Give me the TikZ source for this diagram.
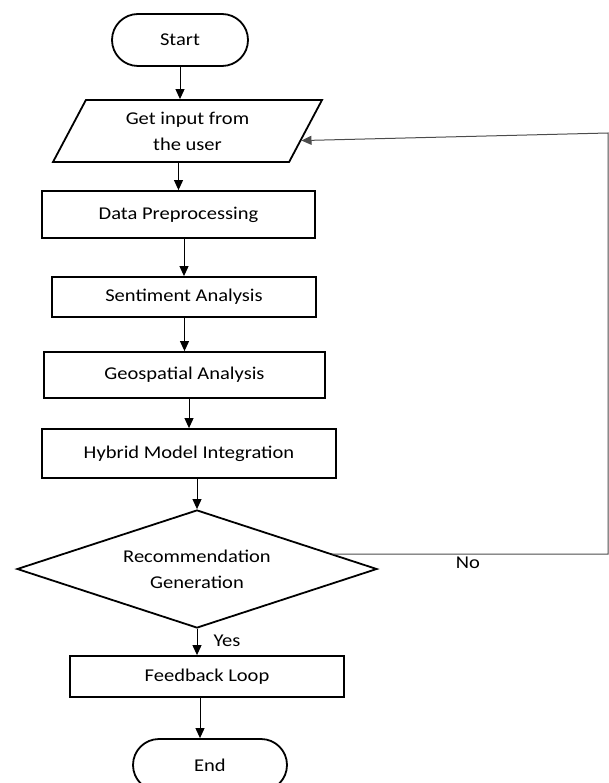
\documentclass[tikz,border=0pt]{standalone}
\usepackage{fontspec}
\setmainfont{Carlito}[FakeStretch=1.14]
\usetikzlibrary{shapes.geometric,shapes.misc,arrows.meta,calc}
\tikzset{
  every node/.style={font=\fontsize{18}{26}\selectfont, align=center},
  term/.style={draw, line width=1.8pt, rounded rectangle, inner sep=0pt, minimum width=136pt, minimum height=52pt},
  proc/.style={draw, line width=1.8pt, rectangle, inner sep=0pt},
  io/.style={draw, line width=1.8pt, trapezium, trapezium left angle=49.5, trapezium right angle=130.5,
    trapezium stretches body, inner sep=0pt, minimum width=269pt, minimum height=62pt},
  decide/.style={draw, line width=1.8pt, diamond, aspect=3.05, inner sep=0pt, minimum width=360pt, minimum height=118pt},
  arr/.style={line width=1pt, -{Triangle[length=10pt,width=9pt]}},
  back/.style={line width=1pt, draw=black!70, -{Triangle[length=10pt,width=9pt]}}
}

\begin{document}
\begin{tikzpicture}[x=1pt,y=-1pt]
\useasboundingbox (0,0) rectangle (609,783);
\node[term] (start) at (180,40) {Start};
\node[io] (input) at (187.5,131) {Get input from\\the user};
\node[proc, minimum width=273pt, minimum height=47pt] (prep) at (178.5,214.5) {Data Preprocessing};
\node[proc, minimum width=264pt, minimum height=40pt] (senti) at (184,297) {Sentiment Analysis};
\node[proc, minimum width=281pt, minimum height=46pt] (geo) at (184.5,375) {Geospatial Analysis};
\node[proc, minimum width=294pt, minimum height=49pt] (hybrid) at (189,453.5) {Hybrid Model Integration};
\node[decide] (dec) at (197,569) {Recommendation\\Generation};
\node[proc, minimum width=274pt, minimum height=41pt] (feed) at (207,676.5) {Feedback Loop};
\node[term, minimum width=154pt] (end) at (210,765) {End};
\node (no) at (468,563) {No};
\node (yes) at (227,641) {Yes};
\coordinate (upturn) at (608,133);

\draw[arr] (start.south) -- (start.south |- input.top side);
\draw[arr] (prep.north |- input.bottom side) -- (prep.north);
\draw[arr] (senti.north |- prep.south) -- (senti.north);
\draw[arr] (geo.north |- senti.south) -- (geo.north);
\draw[arr] (hybrid.north |- geo.south) -- (hybrid.north);
\draw[arr] (dec.north |- hybrid.south) -- (dec.north);
\draw[arr] (dec.south) -- (dec.south |- feed.north);
\draw[arr] ([xshift=-10pt]end.north |- feed.south) -- ([xshift=-10pt]end.north);
\draw[back] ($(dec.north)!0.75!(dec.east)$) -| (upturn)
  -- ($(input.top right corner)!0.65!(input.bottom right corner)$);
\end{tikzpicture}
\end{document}
